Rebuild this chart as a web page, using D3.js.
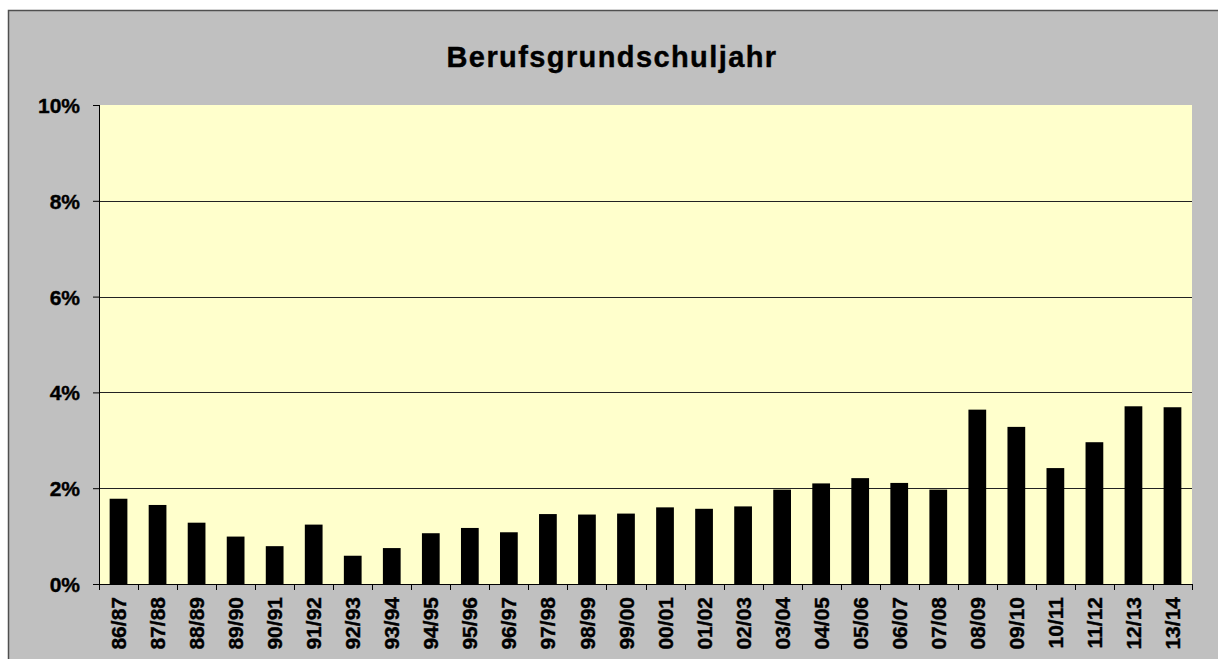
<!DOCTYPE html>
<html>
<head>
<meta charset="utf-8">
<script src="https://cdn.jsdelivr.net/npm/d3@7"></script>
<style>
  body { margin: 0; background: #fff; }
  text { font-family: "Liberation Sans", Arial, sans-serif; font-weight: bold; fill: #000; stroke: #000; stroke-width: 0.4px; }
</style>
</head>
<body>
<div id="main"></div>
<script>
// Berufsgrundschuljahr share per school year
const years = ["86/87", "87/88", "88/89", "89/90", "90/91", "91/92", "92/93", "93/94", "94/95", "95/96",
    "96/97", "97/98", "98/99", "99/00", "00/01", "01/02", "02/03", "03/04", "04/05", "05/06",
    "06/07", "07/08", "08/09", "09/10", "10/11", "11/12", "12/13", "13/14"];
const shares = [0.0178, 0.0165, 0.0128, 0.0099, 0.0079, 0.0124, 0.0059, 0.0075, 0.0106, 0.0117,
    0.0108, 0.0146, 0.0145, 0.0147, 0.0160, 0.0157, 0.0162, 0.0197, 0.0210, 0.0221,
    0.0211, 0.0197, 0.0364, 0.0328, 0.0242, 0.0296, 0.0371, 0.0369];
const yTicks = [0, 0.02, 0.04, 0.06, 0.08, 0.10];
const title = "Berufsgrundschuljahr";

const ctx = {
    w: 1218,
    h: 659,
    left: 99,
    right: 1192,
    top: 105,
    bottom: 584,
};

const svg = d3.select("#main").append("svg")
    .attr("width", ctx.w)
    .attr("height", ctx.h);

// chart area
svg.append("rect")
    .attr("x", 8.5).attr("y", 10.5)
    .attr("width", ctx.w + 10).attr("height", ctx.h + 10)
    .attr("fill", "#c0c0c0")
    .attr("stroke", "#505050")
    .attr("stroke-width", 1.5);

svg.append("text")
    .attr("x", 612)
    .attr("y", 67)
    .attr("text-anchor", "middle")
    .style("font-size", "29px")
    .style("letter-spacing", "1.4px")
    .text(title);

const x = d3.scaleBand()
    .domain(years)
    .range([ctx.left, ctx.right])
    .paddingInner(1.2 / 2.2)
    .paddingOuter(0.6 / 2.2);

const y = d3.scaleLinear()
    .domain([0, 0.10])
    .range([ctx.bottom, ctx.top]);

// plot area
svg.append("rect")
    .attr("x", ctx.left).attr("y", ctx.top)
    .attr("width", ctx.right - ctx.left).attr("height", ctx.bottom - ctx.top)
    .attr("fill", "#ffffcc");

svg.append("g")
    .selectAll("line")
    .data(yTicks.filter((d) => d > 0 && d < 0.10))
    .enter()
    .append("line")
    .attr("x1", ctx.left).attr("x2", ctx.right)
    .attr("y1", (d) => Math.round(y(d)) + 0.5)
    .attr("y2", (d) => Math.round(y(d)) + 0.5)
    .attr("stroke", "#222")
    .attr("stroke-width", 1);

svg.append("g")
    .selectAll("rect")
    .data(shares)
    .enter()
    .append("rect")
    .attr("x", (d, i) => x(years[i]))
    .attr("y", (d) => y(d))
    .attr("width", x.bandwidth())
    .attr("height", (d) => y(0) - y(d))
    .attr("fill", "#000");

// y axis
const yAxis = svg.append("g")
    .attr("transform", `translate(${ctx.left},0)`)
    .call(d3.axisLeft(y).tickValues(yTicks).tickFormat(d3.format(".0%")).tickSize(6).tickPadding(13));
yAxis.select(".domain").attr("stroke", "#000").attr("d", `M0.5,${ctx.top}V${ctx.bottom}`);
yAxis.selectAll(".tick line").attr("stroke", "#000");
yAxis.selectAll("text").style("font-size", "21px").attr("dy", "0.36em");

// x axis
const step = x.step();
const xAxis = svg.append("g").attr("transform", `translate(0,${ctx.bottom})`);
xAxis.append("line")
    .attr("x1", ctx.left).attr("x2", ctx.right)
    .attr("y1", 0.5).attr("y2", 0.5)
    .attr("stroke", "#000");
xAxis.selectAll("line.tick")
    .data(d3.range(years.length + 1))
    .enter()
    .append("line")
    .attr("class", "tick")
    .attr("x1", (d) => Math.round(ctx.left + d * step) + 0.5)
    .attr("x2", (d) => Math.round(ctx.left + d * step) + 0.5)
    .attr("y1", 0).attr("y2", 6)
    .attr("stroke", "#000");
xAxis.selectAll("text.label")
    .data(years)
    .enter()
    .append("text")
    .attr("class", "label")
    .attr("transform", (d) => `translate(${x(d) + x.bandwidth() / 2},13) rotate(-90)`)
    .attr("text-anchor", "end")
    .attr("dy", "0.36em")
    .style("font-size", "21px")
    .text((d) => d);
</script>
</body>
</html>
